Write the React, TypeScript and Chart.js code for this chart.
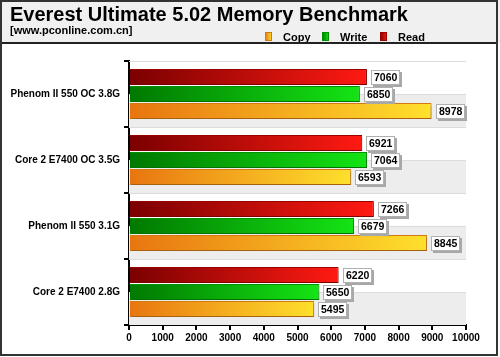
import React, { useEffect, useRef } from "react";
import { Chart, registerables } from "chart.js";

Chart.register(...registerables);

const titleText = "Everest Ultimate 5.02 Memory Benchmark";
const subtitleText = "[www.pconline.com.cn]";
const categories = [
  "Phenom II 550 OC 3.8G",
  "Core 2 E7400 OC 3.5G",
  "Phenom II 550 3.1G",
  "Core 2 E7400 2.8G",
];
const readValues = [7060, 6921, 7266, 6220];
const writeValues = [6850, 7064, 6679, 5650];
const copyValues = [8978, 6593, 8845, 5495];
const xMin = 0;
const xMax = 10000;
const xStep = 1000;
const legendLabels = ["Copy", "Write", "Read"];

const FONT = "'Liberation Sans', Arial, Helvetica, sans-serif";

const palette = {
  Read: { dark: "#7a0000", light: "#ff1a12", border: "#9a0000" },
  Write: { dark: "#007800", light: "#14e414", border: "#009000" },
  Copy: { dark: "#e87510", light: "#ffe02c", border: "#d07a10" },
};

function gradientFor(dark: string, light: string) {
  return (c: any) => {
    const chart = c.chart;
    const area = chart.chartArea;
    const xs = chart.scales && chart.scales.x;
    if (!area || !xs || typeof c.raw !== "number") return light;
    const end = xs.getPixelForValue(c.raw);
    const g = chart.ctx.createLinearGradient(area.left, 0, Math.max(end, area.left + 1), 0);
    g.addColorStop(0, dark);
    g.addColorStop(1, light);
    return g;
  };
}

const framePlugin = {
  id: "frame",
  beforeDraw(chart: any) {
    const ctx = chart.ctx;
    ctx.save();
    ctx.fillStyle = "#ffffff";
    ctx.fillRect(0, 0, chart.width, chart.height);
    ctx.fillStyle = "#f0f0f0";
    ctx.fillRect(0, 0, chart.width, 43);
    ctx.restore();
  },
  beforeDatasetsDraw(chart: any) {
    const ctx = chart.ctx;
    const area = chart.chartArea;
    const ys = chart.scales.y;
    ctx.save();
    const n = categories.length;
    const band = (area.bottom - area.top) / n;
    for (let i = 0; i < n; i++) {
      const mid = ys.getPixelForValue(i);
      ctx.fillStyle = "#ededed";
      ctx.fillRect(area.left, mid, area.right - area.left, band / 2);
      ctx.fillStyle = "#dcdcdc";
      ctx.fillRect(area.left, mid - band / 2, area.right - area.left, 1);
      ctx.fillRect(area.left, mid, area.right - area.left, 1);
    }
    ctx.restore();
  },
  beforeDatasetDraw(chart: any) {
    const ctx = chart.ctx;
    ctx.save();
    ctx.shadowColor = "rgba(0,0,0,0.22)";
    ctx.shadowOffsetX = 1;
    ctx.shadowOffsetY = 2;
    ctx.shadowBlur = 2;
  },
  afterDatasetDraw(chart: any) {
    chart.ctx.restore();
  },
  afterDatasetsDraw(chart: any) {
    const ctx = chart.ctx;
    ctx.save();
    ctx.font = `bold 10.5px ${FONT}`;
    ctx.textBaseline = "middle";
    ctx.textAlign = "left";
    chart.data.datasets.forEach((ds: any, di: number) => {
      const meta = chart.getDatasetMeta(di);
      meta.data.forEach((el: any, i: number) => {
        const v = ds.data[i];
        const label = String(v);
        const tw = ctx.measureText(label).width;
        const bx = Math.round(el.x + 4);
        const by = Math.round(el.y - 7);
        const bw = Math.round(tw + 6);
        const bh = 15;
        ctx.fillStyle = "#a8a8a8";
        ctx.fillRect(bx + 2, by + 2, bw, bh);
        ctx.fillStyle = "#ffffff";
        ctx.fillRect(bx, by, bw, bh);
        ctx.strokeStyle = "#b0b0b0";
        ctx.lineWidth = 1;
        ctx.strokeRect(bx + 0.5, by + 0.5, bw - 1, bh - 1);
        ctx.fillStyle = "#000000";
        ctx.fillText(label, bx + 3, by + bh / 2 + 0.5);
      });
    });
    ctx.restore();
  },
  afterDraw(chart: any) {
    const ctx = chart.ctx;
    ctx.save();
    // legend
    const items = [
      { label: legendLabels[0], c: palette.Copy, x: 265, tx: 283 },
      { label: legendLabels[1], c: palette.Write, x: 322, tx: 340 },
      { label: legendLabels[2], c: palette.Read, x: 380, tx: 398 },
    ];
    ctx.font = `bold 11px ${FONT}`;
    ctx.textBaseline = "alphabetic";
    ctx.textAlign = "left";
    items.forEach((it) => {
      const g = ctx.createLinearGradient(it.x, 0, it.x + 7, 0);
      g.addColorStop(0, it.c.dark);
      g.addColorStop(1, it.c.light);
      ctx.fillStyle = g;
      ctx.fillRect(it.x, 32, 7, 9);
      ctx.strokeStyle = it.c.border;
      ctx.lineWidth = 1;
      ctx.strokeRect(it.x + 0.5, 32.5, 6, 8);
      ctx.fillStyle = "#000";
      ctx.fillText(it.label, it.tx, 41);
    });
    // header separator
    ctx.strokeStyle = "#222";
    ctx.lineWidth = 2;
    ctx.beginPath();
    ctx.moveTo(0, 43);
    ctx.lineTo(498, 43);
    ctx.stroke();
    // outer border
    ctx.strokeStyle = "#333";
    ctx.lineWidth = 2;
    ctx.strokeRect(1, 1, 496, 354);
    ctx.restore();
  },
};

export default function App() {
  const ref = useRef<HTMLCanvasElement | null>(null);
  useEffect(() => {
    document.body.style.margin = "0";
    const canvas = ref.current;
    if (!canvas) return;
    const chart = new Chart(canvas, {
      type: "bar",
      data: {
        labels: categories,
        datasets: [
          {
            label: "Read",
            data: readValues,
            backgroundColor: gradientFor(palette.Read.dark, palette.Read.light) as any,
            borderColor: palette.Read.border,
            borderWidth: 1,
          },
          {
            label: "Write",
            data: writeValues,
            backgroundColor: gradientFor(palette.Write.dark, palette.Write.light) as any,
            borderColor: palette.Write.border,
            borderWidth: 1,
          },
          {
            label: "Copy",
            data: copyValues,
            backgroundColor: gradientFor(palette.Copy.dark, palette.Copy.light) as any,
            borderColor: palette.Copy.border,
            borderWidth: 1,
          },
        ],
      },
      options: {
        indexAxis: "y",
        animation: false,
        responsive: true,
        maintainAspectRatio: false,
        datasets: { bar: { categoryPercentage: 0.77, barPercentage: 0.94 } },
        layout: { padding: { left: 10, right: 34, top: 0, bottom: 14 } },
        plugins: {
          legend: { display: false },
          tooltip: { enabled: false },
          title: {
            display: true,
            text: titleText,
            align: "start",
            color: "#000",
            font: { family: FONT, size: 20, weight: "bold", lineHeight: 1.05 },
            padding: { top: 4.5, bottom: 0 },
          },
          subtitle: {
            display: true,
            text: subtitleText,
            align: "start",
            color: "#000",
            font: { family: FONT, size: 11, weight: "bold", lineHeight: 1 },
            padding: { top: 0, bottom: 24.5 },
          },
        },
        scales: {
          x: {
            type: "linear",
            min: xMin,
            max: xMax,
            ticks: {
              stepSize: xStep,
              color: "#000",
              padding: 2,
              maxRotation: 0,
              minRotation: 0,
              autoSkip: false,
              callback: (v: any) => String(v),
              font: { family: FONT, size: 10, weight: "bold" },
            },
            grid: {
              drawOnChartArea: false,
              drawTicks: true,
              tickLength: 5,
              color: "#000",
              lineWidth: 2,
            },
            border: { display: true, color: "#000", width: 2 },
            afterFit: (s: any) => {
              s.height = 18;
            },
          },
          y: {
            type: "category",
            ticks: {
              color: "#000",
              padding: 4,
              font: { family: FONT, size: 10, weight: "bold" },
            },
            grid: {
              offset: true,
              drawOnChartArea: false,
              drawTicks: true,
              tickLength: 5,
              color: "#000",
              lineWidth: 2,
            },
            border: { display: true, color: "#000", width: 2 },
            afterFit: (s: any) => {
              s.width = 119;
            },
          },
        },
      },
      plugins: [framePlugin],
    });
    return () => chart.destroy();
  }, []);
  return (
    <div style={{ position: "absolute", left: 0, top: 0, width: 500, height: 357 }}>
      <canvas ref={ref} />
    </div>
  );
}
